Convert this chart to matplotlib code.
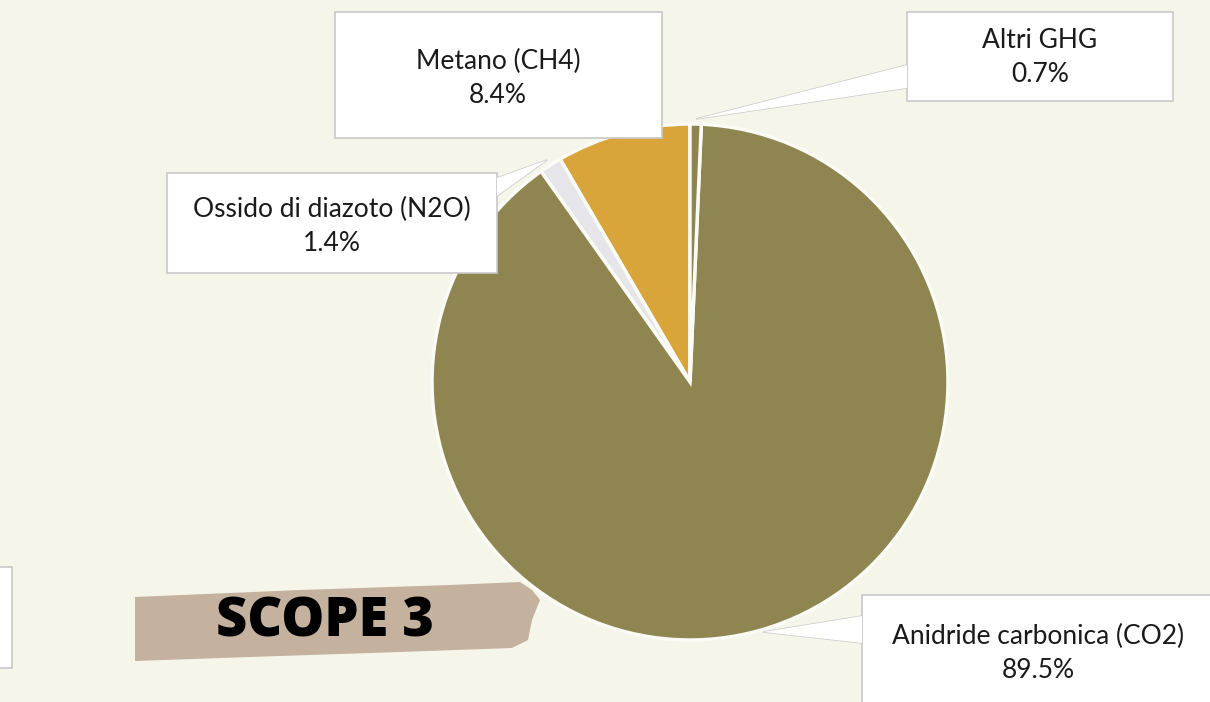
import matplotlib.pyplot as plt
from matplotlib.patches import Polygon, Rectangle

# data
labels = ["Metano (CH4)", "Ossido di diazoto (N2O)", "Anidride carbonica (CO2)", "Altri GHG"]
values = [8.4, 1.4, 89.5, 0.7]
colors = ["#D9A43A", "#E6E6EA", "#8E8551", "#8E8551"]

H = 702
BG = "#F5F5E9"


def fy(py):
    # pixel row -> data y
    return H - py


fig = plt.figure(figsize=(12.1, 7.02), dpi=100)
fig.patch.set_facecolor(BG)
ax = fig.add_axes([0, 0, 1, 1])

ax.pie(values, colors=colors, startangle=90, counterclock=True,
       center=(690, fy(382)), radius=258, frame=True,
       wedgeprops=dict(edgecolor="#FBFBF6", linewidth=2.5))
ax.set_xlim(0, 1210)
ax.set_ylim(0, H)
ax.set_aspect("equal")
ax.axis("off")


def callout(box, tip=None, base=None):
    x0, y0, x1, y1 = box
    ax.add_patch(Rectangle((x0, fy(y1)), x1 - x0, y1 - y0, facecolor="white",
                           edgecolor="#C8C8C8", linewidth=1.2, zorder=5))
    if tip is not None:
        pts = [(base[0][0], fy(base[0][1])), (tip[0], fy(tip[1])), (base[1][0], fy(base[1][1]))]
        ax.add_patch(Polygon(pts, closed=False, facecolor="white", edgecolor="#C8C8C8",
                             linewidth=1.0, zorder=4))
        ax.add_patch(Polygon(pts, closed=True, facecolor="white", edgecolor="none",
                             zorder=6))


txt = dict(ha="center", va="center", fontsize=19, family="Lato", color="#1A1A1A",
           linespacing=1.45, zorder=7)

# Metano
callout((335, 12, 662, 138))
ax.text(498, fy(78), f"{labels[0]}\n{values[0]}%", **txt)

# N2O
callout((167, 173, 497, 273), tip=(547, 160), base=((497, 178), (497, 196)))
ax.text(332, fy(226), f"{labels[1]}\n{values[1]}%", **txt)

# Altri GHG
callout((907, 12, 1173, 101), tip=(696, 119), base=((907, 65), (907, 88)))
ax.text(1040, fy(58), f"{labels[3]}\n{values[3]}%", **txt)

# CO2
callout((862, 595, 1230, 720), tip=(763, 632), base=((862, 616), (862, 643)))
ax.text(1038, fy(653), f"{labels[2]}\n{values[2]}%", **txt)

# box cut off at left edge
callout((-10, 567, 12, 668))

# brush stroke with title
brush = [(135, 597), (300, 590), (450, 585), (520, 582), (532, 590), (540, 600),
         (532, 620), (528, 640), (512, 648), (400, 652), (250, 657), (135, 661)]
ax.add_patch(Polygon([(x, fy(y)) for x, y in brush], closed=True,
                     facecolor="#C4B19E", edgecolor="none", zorder=8))
ax.text(325, fy(622), "SCOPE 3", ha="center", va="center", fontsize=39,
        family="Open Sans", fontweight="heavy", color="black", zorder=9)

fig.savefig("out.png", dpi=100, facecolor=fig.get_facecolor())
